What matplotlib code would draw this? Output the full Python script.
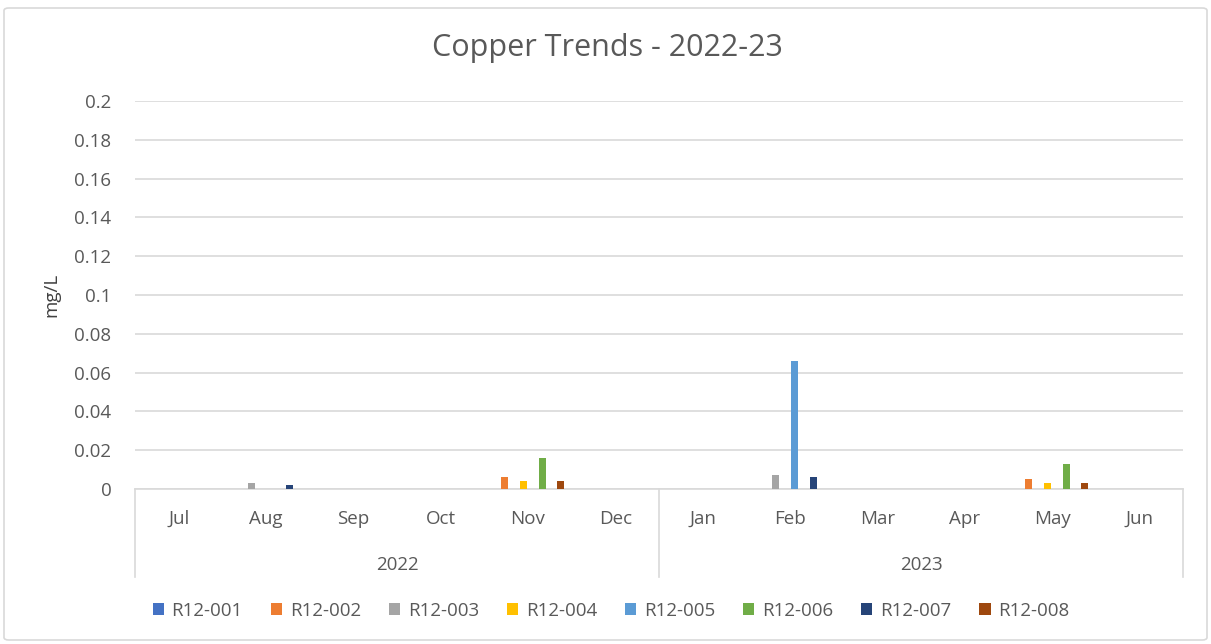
import numpy as np
import matplotlib.pyplot as plt
from matplotlib.patches import FancyBboxPatch
from matplotlib.transforms import blended_transform_factory

months = ['Jul', 'Aug', 'Sep', 'Oct', 'Nov', 'Dec', 'Jan', 'Feb', 'Mar', 'Apr', 'May', 'Jun']
years = ['2022', '2023']
sites = ['R12-001', 'R12-002', 'R12-003', 'R12-004', 'R12-005', 'R12-006', 'R12-007', 'R12-008']
colors = ['#4472C4', '#ED7D31', '#A5A5A5', '#FFC000', '#5B9BD5', '#70AD47', '#264478', '#9E480E']

# copper (mg/L) per site, one value per month Jul..Jun
r12_001 = [0, 0, 0, 0, 0, 0, 0, 0, 0, 0, 0, 0]
r12_002 = [0, 0, 0, 0, 0.006, 0, 0, 0, 0, 0, 0.005, 0]
r12_003 = [0, 0.003, 0, 0, 0, 0, 0, 0.007, 0, 0, 0, 0]
r12_004 = [0, 0, 0, 0, 0.004, 0, 0, 0, 0, 0, 0.003, 0]
r12_005 = [0, 0, 0, 0, 0, 0, 0, 0.066, 0, 0, 0, 0]
r12_006 = [0, 0, 0, 0, 0.016, 0, 0, 0, 0, 0, 0.013, 0]
r12_007 = [0, 0.002, 0, 0, 0, 0, 0, 0.006, 0, 0, 0, 0]
r12_008 = [0, 0, 0, 0, 0.004, 0, 0, 0, 0, 0, 0.003, 0]
values = [r12_001, r12_002, r12_003, r12_004, r12_005, r12_006, r12_007, r12_008]

plt.rcParams['font.family'] = ['Open Sans', 'DejaVu Sans']
txt = '#595959'
fs = 13.5

fig = plt.figure(figsize=(12.11, 6.44), dpi=100)
border = FancyBboxPatch((4 / 1211, 4 / 644), 1203 / 1211, 632 / 644,
                        boxstyle='round,pad=0,rounding_size=0.004',
                        transform=fig.transFigure, fc='white',
                        ec='#D9D9D9', lw=1.2, zorder=-5)
fig.patches.append(border)
ax = fig.add_axes([135 / 1211, 1 - 489 / 644, 1048 / 1211, 388 / 644])
ax.set_facecolor('none')

x = np.arange(len(months))
slot = 0.1077
for j, (name, vals) in enumerate(zip(sites, values)):
    ax.bar(x + (j - 3.5) * slot, vals, width=0.08, color=colors[j], label=name, zorder=3)

ax.set_xlim(-0.5, 11.5)
ax.set_ylim(0, 0.2)
ax.set_yticks(np.arange(0, 0.201, 0.02))
ax.set_yticklabels(['0'] + ['%g' % v for v in np.arange(0.02, 0.201, 0.02)])
ax.yaxis.grid(True, color='#D9D9D9', lw=1.2, zorder=0)
ax.tick_params(axis='y', length=0, labelsize=fs, labelcolor=txt, pad=17)
ax.set_xticks(x)
ax.set_xticklabels(months)
ax.tick_params(axis='x', length=0, labelsize=fs, labelcolor=txt, pad=15)
for s in ['top', 'left', 'right']:
    ax.spines[s].set_visible(False)
ax.spines['bottom'].set_color('#D9D9D9')
ax.spines['bottom'].set_linewidth(1.2)

trans = blended_transform_factory(ax.transData, ax.transAxes)
for xs in [-0.5, 5.5, 11.5]:
    ax.plot([xs, xs], [0, -88 / 388], color='#D9D9D9', lw=1.2, transform=trans, clip_on=False)
for i, yr in enumerate(years):
    ax.text(2.5 + 6 * i, -76 / 388, yr, transform=trans, ha='center', va='center',
            fontsize=fs, color=txt)

ax.set_ylabel('mg/L', fontsize=fs, color='#404040', labelpad=10)
fig.text(607 / 1211, 1 - 48 / 644, 'Copper Trends - 2022-23', ha='center', va='center',
         fontsize=22, color=txt)

fig.legend(loc='center', bbox_to_anchor=(611 / 1211, 1 - 611 / 644), ncol=8, frameon=False,
           fontsize=fs, labelcolor=txt, handlelength=0.6, handleheight=0.6,
           handletextpad=0.4, columnspacing=1.5)

fig.savefig('out.png', dpi=100)
